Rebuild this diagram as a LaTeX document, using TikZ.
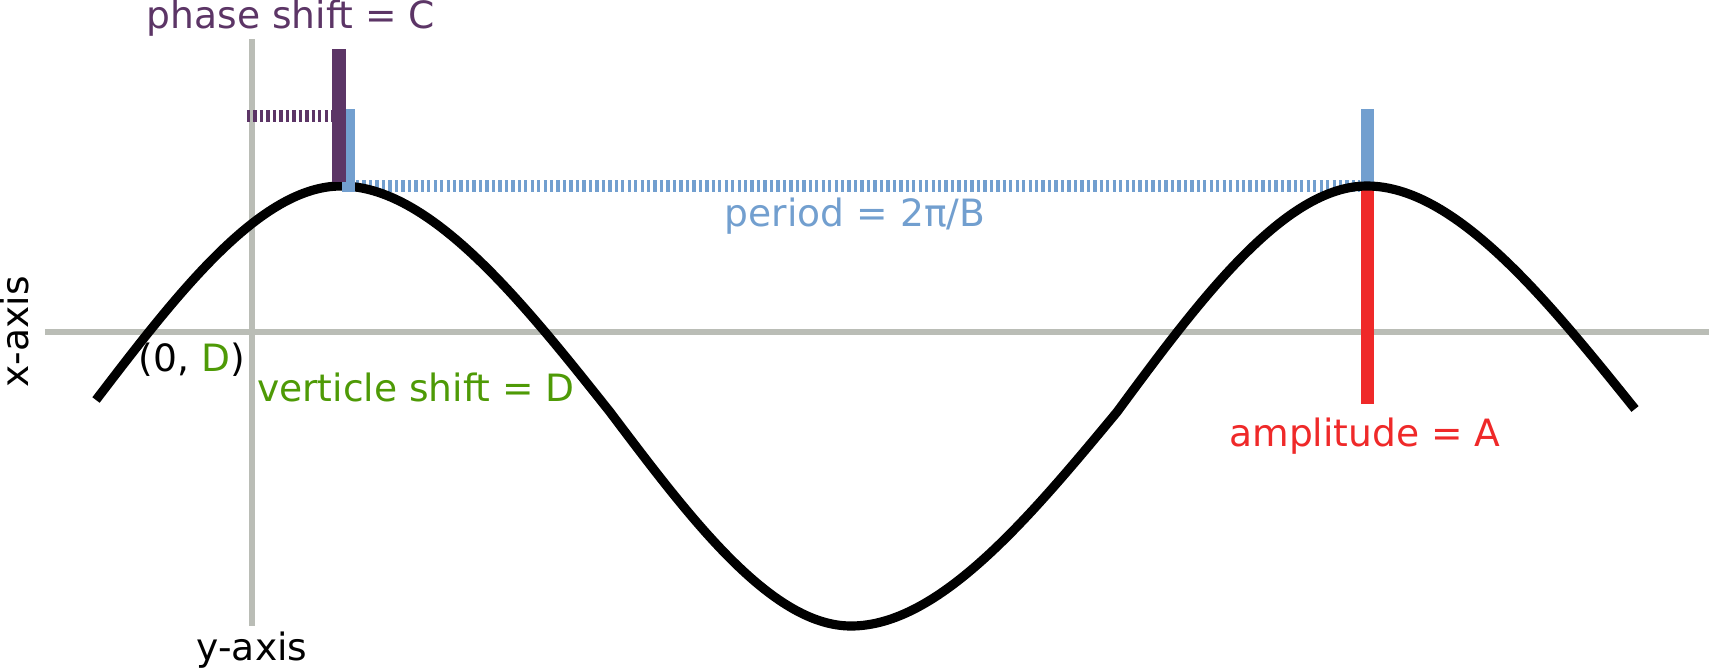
\documentclass[tikz,border=0pt]{standalone}
\usepackage{fontspec}
\setmainfont{DejaVu Sans}
\usepackage{tikz}
\definecolor{axisgray}{HTML}{BABDB6}
\definecolor{plum}{HTML}{5C3566}
\definecolor{skyblue}{HTML}{729FCF}
\definecolor{scarlet}{HTML}{EF2929}
\definecolor{chameleon}{HTML}{4E9A06}

\begin{document}
\begin{tikzpicture}[font=\fontsize{10.7}{13}\selectfont,
    axis/.style={axisgray,line width=1.8pt},
    bar/.style={line width=3.7pt},
    ticked/.style={line width=3.4pt,dash pattern=on 0.94pt off 0.9pt}]
            \useasboundingbox (-2.52,3.32) rectangle (14.57,-3.37);
            \draw [axis] (-2.07,0) -- (14.57,0);
            \draw [axis] (0,2.93) -- (0,-2.94);
            \draw [plum,ticked] (-0.05,2.16) -- (0.80,2.16);
            \draw [skyblue,ticked] (1.04,1.46) -- (11.08,1.46);
            \draw [skyblue,bar] (11.15,2.23) -- (11.15,1.42);
            \draw [scarlet,bar] (11.15,1.42) -- (11.15,-0.72);
            % the wave, peak - trough - peak
            \draw [line width=2.6pt] (-1.56,-0.68)
                .. controls (-0.75,0.38) and (0.08,1.46) .. (0.89,1.46)
                .. controls (1.78,1.46) and (2.69,0.32) .. (3.58,-0.80)
                .. controls (4.38,-1.86) and (5.19,-2.94) .. (5.99,-2.94)
                .. controls (6.87,-2.94) and (7.77,-1.86) .. (8.65,-0.80)
                .. controls (9.475,0.32) and (10.325,1.46) .. (11.15,1.46)
                .. controls (12.03,1.46) and (12.945,0.33) .. (13.83,-0.77);
            \draw [skyblue,bar] (0.96,2.23) -- (0.96,1.40);
            \draw [plum,bar] (0.87,2.83) -- (0.87,1.50);
            \node (phase) [plum,anchor=base] at (0.39,3.04) {phase shift = C};
            \node (period) [skyblue,anchor=base] at (6.03,1.06) {period = 2π/B};
            \node (origin) [anchor=base] at (-0.60,-0.39) {(0, \textcolor{chameleon}{D})};
            \node (vshift) [chameleon,anchor=base] at (1.64,-0.69) {verticle shift = D};
            \node (amp) [scarlet,anchor=base] at (11.13,-1.14) {amplitude = A};
            \node (yaxis) [anchor=base] at (0,-3.28) {y-axis};
            \node (xaxis) [anchor=base,rotate=90] at (-2.23,0) {x-axis};
        \end{tikzpicture}
\end{document}
